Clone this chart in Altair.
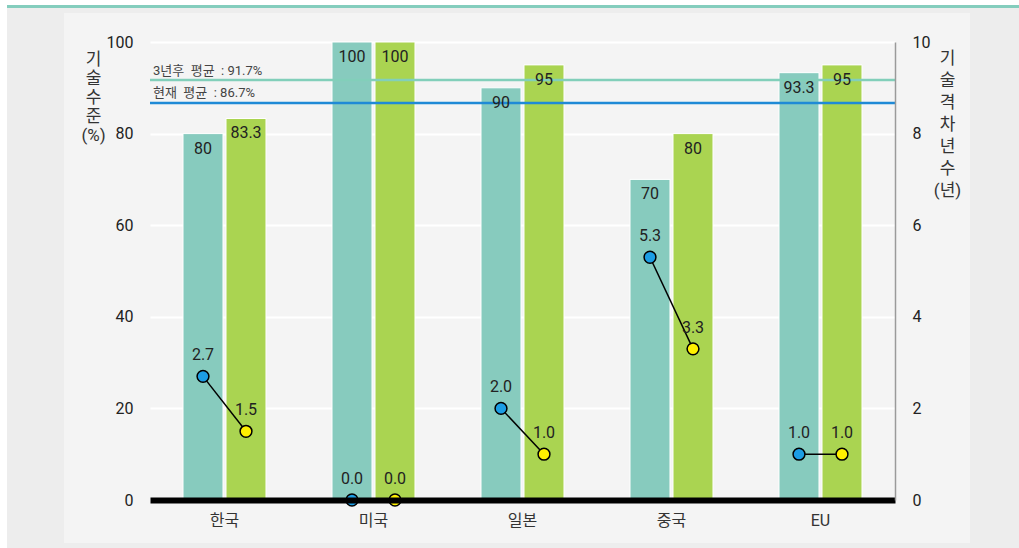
import altair as alt
import pandas as pd

# ---- data -------------------------------------------------------------
countries = ["한국", "미국", "일본", "중국", "EU"]
series_names = ["현재", "3년후"]

level_now = [80, 100, 90, 70, 93.3]      # 기술수준 (%) – 현재
level_after = [83.3, 100, 95, 80, 95]    # 기술수준 (%) – 3년후
gap_now = [2.7, 0.0, 2.0, 5.3, 1.0]      # 기술격차 (년) – 현재
gap_after = [1.5, 0.0, 1.0, 3.3, 1.0]    # 기술격차 (년) – 3년후

avg_now = 86.7
avg_after = 91.7
NBSP = "\u00a0"
avg_now_text = f"현재{NBSP}{NBSP}평균{NBSP}{NBSP}:{NBSP}86.7%"
avg_after_text = f"3년후{NBSP}{NBSP}평균{NBSP}{NBSP}:{NBSP}91.7%"

level_ticks = [0, 20, 40, 60, 80, 100]
gap_ticks = [0, 2, 4, 6, 8, 10]

# ---- styling ----------------------------------------------------------
TEAL = "#87cbbe"
GREEN = "#aad451"
BLUE = "#1c9de4"
YELLOW = "#fff000"
AVG_AFTER_COLOR = "#82cfba"
AVG_NOW_COLOR = "#1f8ad6"
PANEL = "#f4f4f4"
OUTER = "#ededed"
TOP_BAR = "#84cdbd"
FONT = "Roboto, 'Noto Sans CJK KR', sans-serif"

rows = []
for i, c in enumerate(countries):
    rows.append(dict(country=c, series=series_names[0], order=0,
                     level=level_now[i], gap=gap_now[i]))
    rows.append(dict(country=c, series=series_names[1], order=1,
                     level=level_after[i], gap=gap_after[i]))
df = pd.DataFrame(rows)
df["level_label"] = df["level"].map(lambda v: f"{v:g}")
df["gap_label"] = df["gap"].map(lambda v: f"{v:.1f}")

avg_now_df = pd.DataFrame({"avg": [avg_now], "text": [avg_now_text]})
avg_after_df = pd.DataFrame({"avg": [avg_after], "text": [avg_after_text]})

# ---- shared encodings -------------------------------------------------
x_enc = alt.X(
    "country:N", sort=countries,
    scale=alt.Scale(paddingInner=0.443, paddingOuter=0.2215),
    axis=alt.Axis(title=None, labelAngle=0, labelFontSize=16, labelColor="#333",
                  labelPadding=12, ticks=False, grid=False,
                  domainColor="black", domainWidth=6, zindex=1),
)
xo_enc = alt.XOffset(
    "series:N", sort=series_names,
    scale=alt.Scale(domain=series_names, paddingInner=0.07, paddingOuter=0),
)

level_y = alt.Y(
    "level:Q", scale=alt.Scale(domain=[0, 100]),
    axis=alt.Axis(values=level_ticks, grid=True, gridColor="white", gridWidth=2,
                  domain=False, ticks=False, labelPadding=17, labelFontSize=16,
                  labelColor="#222",
                  title=["기", "술", "수", "준", "(%)"], titleAngle=0,
                  titleX=-57, titleY=9, titleAlign="center", titleBaseline="top",
                  titleFontSize=17, titleLineHeight=19, titleFontWeight="normal",
                  titleColor="#333"),
)
gap_y = alt.Y(
    "gap:Q", scale=alt.Scale(domain=[0, 10]),
    axis=alt.Axis(orient="right", values=gap_ticks, grid=False,
                  domain=True, domainColor="#9a9a9a", domainWidth=1.5,
                  ticks=False, labelPadding=17, labelFontSize=16, labelColor="#222",
                  title=["기", "술", "격", "차", "년", "수", "(년)"], titleAngle=0,
                  titleX=52, titleY=8, titleAlign="center", titleBaseline="top",
                  titleFontSize=17, titleLineHeight=22, titleFontWeight="normal",
                  titleColor="#333", zindex=1),
)

base = alt.Chart(df)

# ---- left scale: bars, averages, bar labels -----------------------------
bars = base.mark_bar(stroke="white", strokeWidth=1).encode(
    x=x_enc, xOffset=xo_enc, y=level_y,
    color=alt.Color("series:N", sort=series_names,
                    scale=alt.Scale(domain=series_names, range=[TEAL, GREEN]),
                    legend=None),
)

avg_after_rule = alt.Chart(avg_after_df).mark_rule(
    color=AVG_AFTER_COLOR, strokeWidth=2.5).encode(y=alt.Y("avg:Q"))
avg_now_rule = alt.Chart(avg_now_df).mark_rule(
    color=AVG_NOW_COLOR, strokeWidth=2.5).encode(y=alt.Y("avg:Q"))

avg_after_label = alt.Chart(avg_after_df).mark_text(
    align="left", baseline="bottom", dy=-2, fontSize=13, color="#444").encode(
    x=alt.value(3), y=alt.Y("avg:Q"), text="text:N")
avg_now_label = alt.Chart(avg_now_df).mark_text(
    align="left", baseline="bottom", dy=-3, fontSize=13, color="#444").encode(
    x=alt.value(3), y=alt.Y("avg:Q"), text="text:N")

bar_text = base.mark_text(dy=15, fontSize=16, color="#222", baseline="middle").encode(
    x=x_enc, xOffset=xo_enc, y=level_y, text="level_label:N")

left = alt.layer(bars, avg_after_rule, avg_now_rule, avg_after_label,
                 avg_now_label, bar_text)

# ---- right scale: technology gap in years -------------------------------
gap_line = base.mark_line(color="black", strokeWidth=1.5).encode(
    x=x_enc, xOffset=xo_enc, y=gap_y, detail="country:N", order="order:Q")

gap_points = base.mark_circle(size=140, stroke="black", strokeWidth=1.5,
                              opacity=1).encode(
    x=x_enc, xOffset=xo_enc, y=gap_y,
    fill=alt.Fill("series:N", sort=series_names,
                  scale=alt.Scale(domain=series_names, range=[BLUE, YELLOW]),
                  legend=None),
)

gap_text = base.mark_text(dy=-21, fontSize=16, color="#222", baseline="middle").encode(
    x=x_enc, xOffset=xo_enc, y=gap_y, text="gap_label:N")

right = alt.layer(gap_line, gap_points, gap_text)

# ---- page frame around the panel ----------------------------------------
frame_src = pd.DataFrame({"k": [0]})


def frame_rect(x, x2, y, y2, color):
    return alt.Chart(frame_src).mark_rect(color=color).encode(
        x=alt.value(x), x2=alt.value(x2), y=alt.value(y), y2=alt.value(y2))


frame = [
    frame_rect(-150, -143, -42, 506, "white"),
    frame_rect(-150, 869, -42, -37, "white"),
    frame_rect(-143, 869, -37, -34, TOP_BAR),
    frame_rect(-143, -86, -34, 506, OUTER),
    frame_rect(820, 869, -34, 506, OUTER),
    frame_rect(-86, 820, -34, -29, OUTER),
    frame_rect(-86, 820, 501, 506, OUTER),
]

chart = (
    alt.layer(*frame, left, right)
    .resolve_scale(y="independent")
    .properties(
        width=745, height=458,
        padding={"left": 150, "top": 42, "right": 124, "bottom": 48},
        autosize=alt.AutoSizeParams(type="none"),
        background=PANEL,
    )
    .configure(font=FONT)
    .configure_view(stroke=None)
)

chart.save("out.html", embed_options={"renderer": "svg", "actions": False})
